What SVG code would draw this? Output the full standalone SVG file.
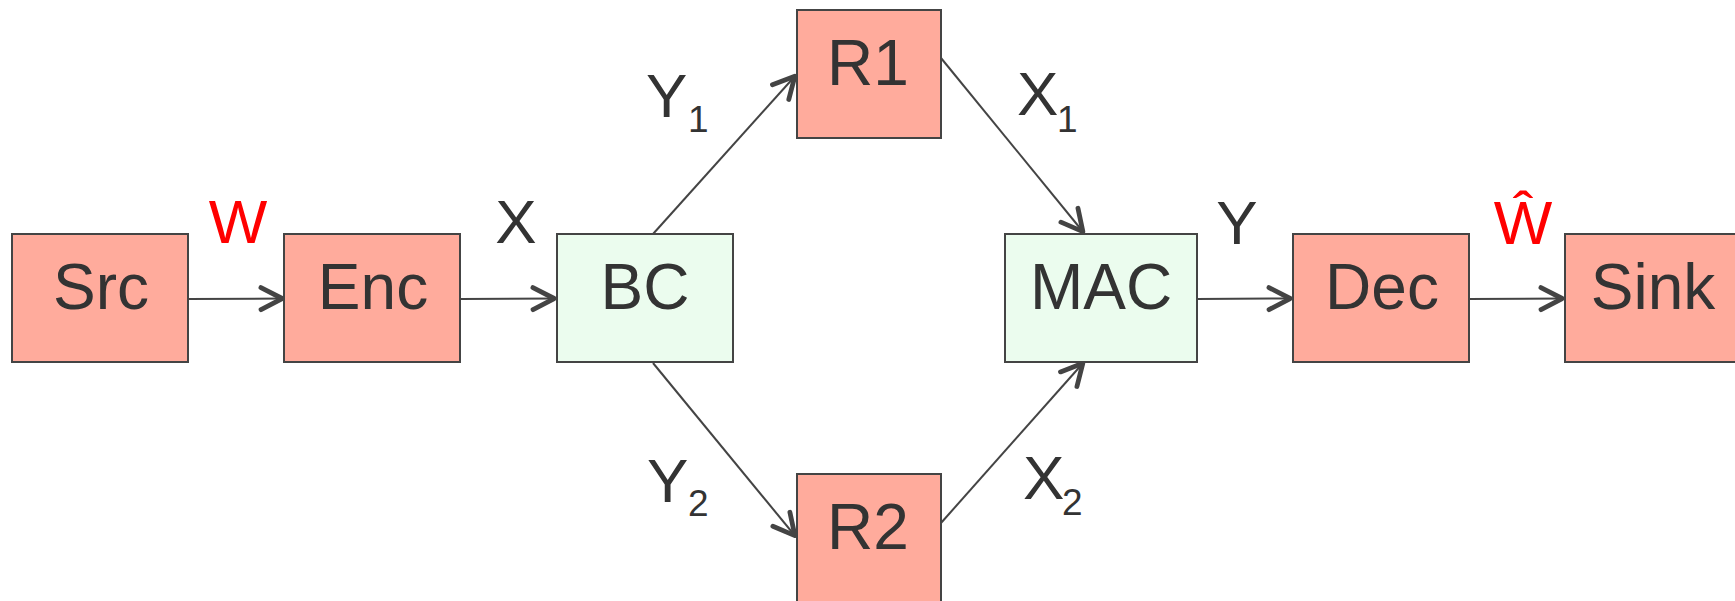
<svg xmlns="http://www.w3.org/2000/svg" width="1735" height="601" viewBox="0 0 1735 601">
  <style>
    .box rect { stroke: #444; stroke-width: 2; }
    .red rect { fill: #ffab9c; }
    .green rect { fill: #ebfcee; }
    .lbl { font-family: "Liberation Sans", Arial, sans-serif; font-size: 64px; fill: #333; text-anchor: middle; }
    .elbl { font-family: "Liberation Sans", Arial, sans-serif; font-size: 62px; fill: #333; }
    .sub { font-size: 37px; }
    .redtxt { fill: #ff0000; }
    .edge { stroke: #444; stroke-width: 2; fill: none; marker-end: url(#arr); }
  </style>
  <defs>
    <marker id="arr" markerUnits="userSpaceOnUse" markerWidth="40" markerHeight="40" viewBox="-30 -20 40 40" refX="0" refY="0" orient="auto">
      <path d="M -23 -11 L -1.8 0 L -23 11" fill="none" stroke="#444" stroke-width="4.8" stroke-linecap="round" stroke-linejoin="round"/>
    </marker>
  </defs>
  <rect width="1735" height="601" fill="#ffffff"/>

  <g id="connectors">
    <line class="edge" x1="189" y1="299" x2="284" y2="298.5"/>
    <line class="edge" x1="461" y1="299" x2="556" y2="298.5"/>
    <line class="edge" x1="653" y1="234" x2="796" y2="75"/>
    <line class="edge" x1="941" y1="58" x2="1084" y2="233"/>
    <line class="edge" x1="653" y1="363" x2="796" y2="537"/>
    <line class="edge" x1="941" y1="523" x2="1084" y2="362"/>
    <line class="edge" x1="1197" y1="299" x2="1292" y2="298.5"/>
    <line class="edge" x1="1469" y1="299" x2="1564" y2="298.5"/>
  </g>

  <g id="edge-labels">
    <text class="elbl redtxt" x="238" y="243" text-anchor="middle">W</text>
    <text class="elbl" x="516" y="243" text-anchor="middle">X</text>
    <text class="elbl"><tspan x="646" y="117">Y</tspan><tspan class="sub" x="688" y="132">1</tspan></text>
    <text class="elbl"><tspan x="647" y="502">Y</tspan><tspan class="sub" x="688" y="516">2</tspan></text>
    <text class="elbl"><tspan x="1017" y="115">X</tspan><tspan class="sub" x="1057" y="132">1</tspan></text>
    <text class="elbl"><tspan x="1023" y="499">X</tspan><tspan class="sub" x="1062" y="515">2</tspan></text>
    <text class="elbl" x="1237" y="244" text-anchor="middle">Y</text>
    <text class="elbl redtxt" x="1523" y="244" text-anchor="middle">Ŵ</text>
  </g>

  <g id="node-src" class="box red">
    <rect x="12" y="234" width="176" height="128"/>
    <text class="lbl" x="101" y="309">Src</text>
  </g>
  <g id="node-enc" class="box red">
    <rect x="284" y="234" width="176" height="128"/>
    <text class="lbl" x="373" y="309">Enc</text>
  </g>
  <g id="node-bc" class="box green">
    <rect x="557" y="234" width="176" height="128"/>
    <text class="lbl" x="645" y="309">BC</text>
  </g>
  <g id="node-r1" class="box red">
    <rect x="797" y="10" width="144" height="128"/>
    <text class="lbl" x="868" y="85">R1</text>
  </g>
  <g id="node-r2" class="box red">
    <rect x="797" y="474" width="144" height="128"/>
    <text class="lbl" x="868" y="549">R2</text>
  </g>
  <g id="node-mac" class="box green">
    <rect x="1005" y="234" width="192" height="128"/>
    <text class="lbl" x="1101" y="309">MAC</text>
  </g>
  <g id="node-dec" class="box red">
    <rect x="1293" y="234" width="176" height="128"/>
    <text class="lbl" x="1382" y="309">Dec</text>
  </g>
  <g id="node-sink" class="box red">
    <rect x="1565" y="234" width="176" height="128"/>
    <text class="lbl" x="1653" y="309">Sink</text>
  </g>
</svg>
